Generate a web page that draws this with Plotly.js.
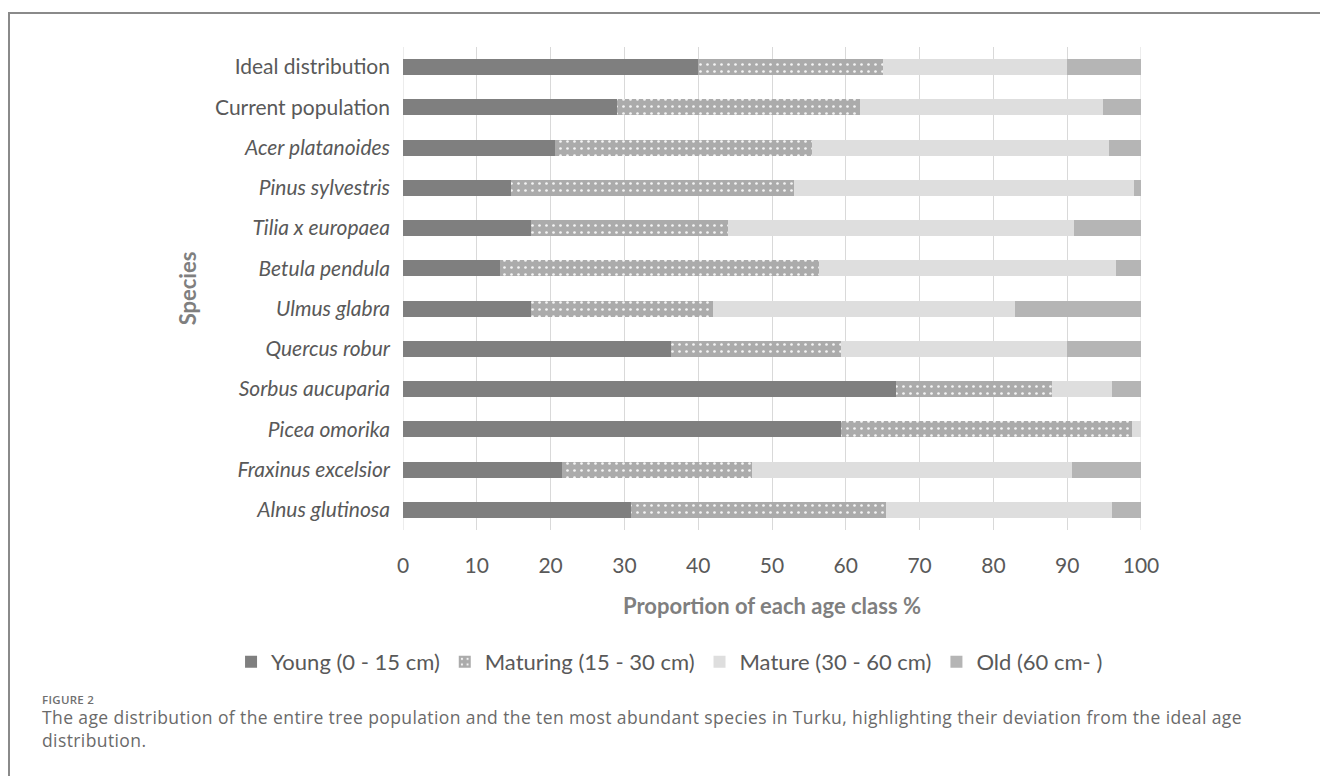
<!DOCTYPE html>
<html>
<head>
<meta charset="utf-8">
<script src="https://cdn.plot.ly/plotly-3.0.1.min.js"></script>
<style>
  html, body { margin: 0; padding: 0; background: #ffffff; }
  #wrap { position: relative; width: 1320px; height: 776px; overflow: hidden; }
  #chart { position: absolute; left: 0; top: 0; width: 1320px; height: 776px; }
  #frame { position: absolute; left: 8px; top: 12px; right: 0; bottom: 0;
           border-top: 2px solid #8a8a8a; border-left: 2px solid #8a8a8a; pointer-events: none; }
  #fig-label { position: absolute; left: 42px; top: 692px; font-family: "Open Sans", sans-serif;
               font-size: 11.5px; font-weight: 600; color: #6f6f6f; letter-spacing: 0.3px; }
  #fig-caption { position: absolute; left: 42px; top: 706px; width: 1270px; font-family: "Open Sans", sans-serif;
                 font-size: 17.5px; line-height: 23px; letter-spacing: 0.4px; color: #6a6a6a; white-space: nowrap; }
</style>
</head>
<body>
<div id="wrap">
  <div id="chart"></div>
  <div id="frame"></div>
  <div id="fig-label">FIGURE 2</div>
  <div id="fig-caption">The age distribution of the entire tree population and the ten most abundant species in Turku, highlighting their deviation from the ideal age<br>distribution.</div>
</div>
<script>
// Rows, top to bottom
const categories = [
  "Ideal distribution", "Current population", "Acer platanoides", "Pinus sylvestris",
  "Tilia x europaea", "Betula pendula", "Ulmus glabra", "Quercus robur",
  "Sorbus aucuparia", "Picea omorika", "Fraxinus excelsior", "Alnus glutinosa"
];
// Species names are set in italics
const italicRows = [false, false, true, true, true, true, true, true, true, true, true, true];

// Share of each age class (%) per row
const young    = [40.0, 29.0, 20.6, 14.6, 17.3, 13.2, 17.3, 36.3, 66.8, 59.4, 21.5, 30.9];
const maturing = [25.0, 32.9, 34.8, 38.4, 26.7, 43.2, 24.7, 23.1, 21.2, 39.4, 25.8, 34.5];
const mature   = [25.0, 33.0, 40.2, 46.1, 46.9, 40.2, 40.9, 30.6,  8.1,  1.2, 43.4, 30.7];
const old      = [10.0,  5.1,  4.4,  0.9,  9.1,  3.4, 17.1, 10.0,  3.9,  0.0,  9.3,  3.9];

const seriesNames = ["Young (0 - 15 cm)", "Maturing (15 - 30 cm)", "Mature (30 - 60 cm)", "Old (60 cm- )"];
const xTicks = [0, 10, 20, 30, 40, 50, 60, 70, 80, 90, 100];

const tickText = categories.map((c, i) => italicRows[i] ? "<i>" + c + "</i>" : c);
const FONT = "Lato, Open Sans, sans-serif";

function bar(values, name, marker) {
  return {
    type: "bar", orientation: "h", x: values, y: categories, name: name,
    marker: marker, hoverinfo: "x+y+name"
  };
}

const traces = [
  bar(young, seriesNames[0], { color: "#7f7f7f" }),
  bar(maturing, seriesNames[1], {
    color: "#ababab",
    pattern: { shape: ".", fillmode: "replace", bgcolor: "#ababab", fgcolor: "#f4f4f4", size: 7, solidity: 0.12 }
  }),
  bar(mature, seriesNames[2], { color: "#dedede" }),
  bar(old, seriesNames[3], { color: "#b5b5b5" })
];

const layout = {
  width: 1320, height: 776,
  margin: { l: 403, r: 179, t: 47, b: 246, pad: 0 },
  paper_bgcolor: "rgba(0,0,0,0)", plot_bgcolor: "#ffffff",
  barmode: "stack", bargap: 0.6,
  font: { family: FONT, color: "#595959", size: 21 },
  showlegend: true,
  legend: {
    // single row below the plot, starting left of the plot area
    orientation: "h", x: -0.233, xanchor: "left", xref: "paper",
    y: -0.273, yanchor: "middle", yref: "paper",
    font: { family: FONT, size: 22, color: "#595959" },
    itemwidth: 30, traceorder: "normal", itemclick: false
  },
  xaxis: {
    range: [0, 100], tickvals: xTicks, ticktext: xTicks.map(String),
    showgrid: true, gridcolor: "#d9d9d9", gridwidth: 1,
    zeroline: false, showline: false, ticks: "",
    ticklabelstandoff: 21,
    tickfont: { family: FONT, size: 21, color: "#595959" },
    title: { text: "Proportion of each age class %", standoff: 22,
             font: { family: FONT, size: 22, color: "#7f7f7f", weight: "bold" } },
    fixedrange: true
  },
  yaxis: {
    type: "category", categoryorder: "array", categoryarray: categories,
    autorange: "reversed",
    tickvals: categories, ticktext: tickText,
    showgrid: false, zeroline: false, showline: false, ticks: "",
    ticklabelstandoff: 12,
    tickfont: { family: FONT, size: 21, color: "#595959" },
    title: { text: "Species", standoff: 12,
             font: { family: FONT, size: 22, color: "#7f7f7f", weight: "bold" } },
    fixedrange: true
  },
  shapes: [
    // gridlines at both ends of the value axis
    { type: "line", xref: "x", yref: "paper", x0: 100, x1: 100, y0: 0, y1: 1,
      line: { color: "#d9d9d9", width: 1 }, layer: "below" },
    { type: "line", xref: "x", yref: "paper", x0: 0, x1: 0, y0: 0, y1: 1,
      line: { color: "#d9d9d9", width: 1 }, layer: "below" }
  ]
};

Plotly.newPlot("chart", traces, layout, { displayModeBar: false, responsive: false });
</script>
</body>
</html>
